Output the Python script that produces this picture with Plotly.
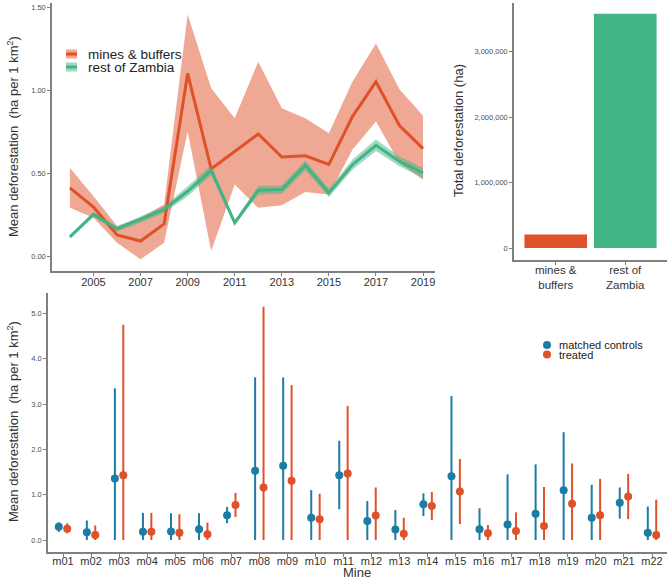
import plotly.graph_objects as go
import numpy as np

# ---------------- data ----------------
years = list(range(2004, 2020))
mines_mean = [0.41, 0.295, 0.127, 0.09, 0.193, 1.10, 0.524, 0.63, 0.735, 0.596, 0.604, 0.552, 0.84, 1.05, 0.785, 0.647]
mines_upper = [0.53, 0.36, 0.18, 0.23, 0.31, 1.455, 1.01, 0.83, 1.17, 0.89, 0.83, 0.74, 1.05, 1.28, 1.005, 0.845]
mines_lower = [0.29, 0.23, 0.08, -0.02, 0.08, 0.75, 0.03, 0.43, 0.29, 0.305, 0.385, 0.37, 0.64, 0.81, 0.56, 0.46]
zambia_mean = [0.115, 0.25, 0.163, 0.22, 0.28, 0.39, 0.516, 0.2, 0.396, 0.40, 0.546, 0.38, 0.55, 0.667, 0.57, 0.50]
zambia_upper = [0.125, 0.265, 0.178, 0.24, 0.30, 0.42, 0.546, 0.215, 0.421, 0.425, 0.576, 0.405, 0.58, 0.702, 0.60, 0.53]
zambia_lower = [0.105, 0.235, 0.148, 0.20, 0.26, 0.36, 0.486, 0.185, 0.371, 0.375, 0.516, 0.355, 0.52, 0.632, 0.54, 0.47]

groups = ["mines &<br>buffers", "rest of<br>Zambia"]
totals = [205000, 3580000]

mines = ["m%02d" % i for i in range(1, 23)]
ctrl_mean = [0.295, 0.17, 1.36, 0.18, 0.19, 0.24, 0.545, 1.53, 1.64, 0.49, 1.43, 0.42, 0.23, 0.79, 1.41, 0.24, 0.34, 0.58, 1.10, 0.49, 0.82, 0.16]
ctrl_lo = [0.18, 0, 0, 0, 0, 0, 0.37, 0, 0, 0, 0.68, 0, 0, 0.53, 0, 0, 0, 0, 0, 0, 0.47, 0]
ctrl_hi = [0.39, 0.43, 3.35, 0.6, 0.59, 0.59, 0.73, 3.59, 3.59, 1.1, 2.19, 0.86, 0.66, 1.03, 3.18, 0.7, 1.45, 1.67, 2.38, 1.22, 1.16, 0.74]
trt_mean = [0.25, 0.11, 1.43, 0.18, 0.16, 0.125, 0.77, 1.16, 1.31, 0.46, 1.47, 0.54, 0.14, 0.75, 1.07, 0.15, 0.2, 0.31, 0.8, 0.545, 0.96, 0.11]
trt_lo = [0.15, 0, 0, 0, 0, 0, 0.51, 0, 0, 0, 0, 0, 0, 0.44, 0.35, 0, 0, 0, 0, 0, 0.46, 0]
trt_hi = [0.37, 0.32, 4.75, 0.6, 0.57, 0.38, 1.04, 5.15, 3.42, 1.02, 2.96, 1.16, 0.49, 1.06, 1.79, 0.33, 0.61, 1.17, 1.69, 1.35, 1.46, 0.89]

# ---------------- style ----------------
RED = "#DF5129"
GREEN = "#42B483"
BLUE = "#1B7CA4"
FONT = "Liberation Sans, Arial, sans-serif"
AX = "#808080"
TXT = "#4D4D4D"
W, H = 669, 579


def px(x):
    return x / W


def py(y):
    return 1 - y / H


fig = go.Figure()

# ---- top-left: time series with ribbons ----
fig.add_trace(go.Scatter(x=years, y=mines_upper, mode="lines", line=dict(width=0),
                         showlegend=False, hoverinfo="skip", xaxis="x", yaxis="y"))
fig.add_trace(go.Scatter(x=years, y=mines_lower, mode="lines", line=dict(width=0), fill="tonexty",
                         fillcolor="rgba(223,81,41,0.5)", showlegend=False, hoverinfo="skip",
                         xaxis="x", yaxis="y"))
fig.add_trace(go.Scatter(x=years, y=zambia_upper, mode="lines", line=dict(width=0),
                         showlegend=False, hoverinfo="skip", xaxis="x", yaxis="y"))
fig.add_trace(go.Scatter(x=years, y=zambia_lower, mode="lines", line=dict(width=0), fill="tonexty",
                         fillcolor="rgba(66,180,131,0.5)", showlegend=False, hoverinfo="skip",
                         xaxis="x", yaxis="y"))
fig.add_trace(go.Scatter(x=years, y=mines_mean, mode="lines", line=dict(color=RED, width=3),
                         name="mines & buffers", showlegend=False, xaxis="x", yaxis="y"))
fig.add_trace(go.Scatter(x=years, y=zambia_mean, mode="lines", line=dict(color=GREEN, width=3),
                         name="rest of Zambia", showlegend=False, xaxis="x", yaxis="y"))

# ---- top-right: bars ----
fig.add_trace(go.Bar(x=[0, 1], y=totals, marker=dict(color=[RED, GREEN], line=dict(width=0)),
                     width=0.9, showlegend=False, xaxis="x2", yaxis="y2"))

# ---- bottom: point ranges ----
idx = np.arange(len(mines))
off = 0.15
c_mean = np.array(ctrl_mean)
t_mean = np.array(trt_mean)
fig.add_trace(go.Scatter(x=idx - off, y=ctrl_mean, mode="markers", name="matched controls",
                         marker=dict(color=BLUE, size=8),
                         error_y=dict(type="data", symmetric=False,
                                      array=list(np.array(ctrl_hi) - c_mean),
                                      arrayminus=list(c_mean - np.array(ctrl_lo)),
                                      color=BLUE, thickness=2, width=0),
                         showlegend=False, xaxis="x3", yaxis="y3"))
fig.add_trace(go.Scatter(x=idx + off, y=trt_mean, mode="markers", name="treated",
                         marker=dict(color=RED, size=8),
                         error_y=dict(type="data", symmetric=False,
                                      array=list(np.array(trt_hi) - t_mean),
                                      arrayminus=list(t_mean - np.array(trt_lo)),
                                      color=RED, thickness=2, width=0),
                         showlegend=False, xaxis="x3", yaxis="y3"))

axis_common = dict(showline=True, linecolor=AX, linewidth=1.5, ticks="outside", ticklen=3,
                   tickcolor=AX, tickwidth=1, showgrid=False, zeroline=False)

fig.update_layout(
    width=W, height=H, margin=dict(l=0, r=0, t=0, b=0),
    paper_bgcolor="white", plot_bgcolor="white",
    font=dict(family=FONT, color=TXT),
    xaxis=dict(domain=[px(52), px(435)], range=[2004 - 18 / 23.6, 2019 + 12 / 23.6],
               tickvals=list(range(2005, 2020, 2)), tickfont=dict(size=11, color="#333333"),
               ticklabelstandoff=-3, anchor="y", **axis_common),
    yaxis=dict(domain=[py(271), py(3)], range=[-15 / 166, 253 / 166],
               tickvals=[0, 0.5, 1.0, 1.5], tickformat=".2f", tickfont=dict(size=7.5, color=TXT),
               anchor="x", **axis_common),
    xaxis2=dict(domain=[px(514), px(667)], range=[-0.6, 1.6], tickvals=[0, 1], ticktext=groups,
                tickfont=dict(size=11.5, color="#333333"), ticklabelstandoff=-5,
                anchor="y2", **axis_common),
    yaxis2=dict(domain=[py(260), py(3)], range=[-12 / 65.4 * 1e6, 245 / 65.4 * 1e6],
                tickvals=[0, 1e6, 2e6, 3e6], tickformat=",", tickfont=dict(size=7.5, color=TXT),
                anchor="x2", **axis_common),
    xaxis3=dict(domain=[px(48), px(667)], range=[-15 / 28.05, 21 + 15 / 28.05],
                tickvals=list(idx), ticktext=mines, tickfont=dict(size=11, color="#333333"),
                ticklabelstandoff=-5, anchor="y3", **axis_common),
    yaxis3=dict(domain=[py(552), py(293)], range=[-12 / 45.3, 247 / 45.3],
                tickvals=[0, 1, 2, 3, 4, 5], tickformat=".1f", tickfont=dict(size=7.5, color=TXT),
                anchor="x3", **axis_common),
)

ann = []
# axis titles
ann.append(dict(text="Mean deforestation  (ha per 1 km<sup>2</sup>)", x=px(13), y=py(137),
                textangle=-90, font=dict(size=13, color="#333333")))
ann.append(dict(text="Total deforestation (ha)", x=px(458), y=py(131),
                textangle=-90, font=dict(size=13, color="#333333")))
ann.append(dict(text="Mean deforestation  (ha per 1 km<sup>2</sup>)", x=px(13), y=py(422),
                textangle=-90, font=dict(size=13, color="#333333")))
ann.append(dict(text="Mine", x=px(357), y=py(572.5), font=dict(size=13, color="#333333")))
# legend top-left
ann.append(dict(text="mines & buffers", x=px(86), y=py(54), xanchor="left",
                font=dict(size=13.5, color="#222222")))
ann.append(dict(text="rest of Zambia", x=px(86), y=py(67), xanchor="left",
                font=dict(size=13.5, color="#222222")))
# legend bottom
ann.append(dict(text="matched controls", x=px(557), y=py(345), xanchor="left",
                font=dict(size=11, color="#222222")))
ann.append(dict(text="treated", x=px(557), y=py(354.5), xanchor="left",
                font=dict(size=11, color="#222222")))
for a in ann:
    a.update(xref="paper", yref="paper", showarrow=False)
    a.setdefault("xanchor", "center")
    a.setdefault("yanchor", "middle")
fig.update_layout(annotations=ann)

shapes = []
# top-left legend keys
shapes.append(dict(type="rect", xref="paper", yref="paper", x0=px(66), x1=px(77), y0=py(58.5), y1=py(49.5),
                   fillcolor="rgba(223,81,41,0.5)", line=dict(width=0)))
shapes.append(dict(type="line", xref="paper", yref="paper", x0=px(66), x1=px(77), y0=py(54), y1=py(54),
                   line=dict(color=RED, width=3)))
shapes.append(dict(type="rect", xref="paper", yref="paper", x0=px(66), x1=px(77), y0=py(71.5), y1=py(62.5),
                   fillcolor="rgba(66,180,131,0.5)", line=dict(width=0)))
shapes.append(dict(type="line", xref="paper", yref="paper", x0=px(66), x1=px(77), y0=py(67), y1=py(67),
                   line=dict(color=GREEN, width=3)))
# bottom legend keys
for yy, col in [(345, BLUE), (354.5, RED)]:
    shapes.append(dict(type="circle", xref="paper", yref="paper", xsizemode="pixel", ysizemode="pixel",
                       xanchor=px(547), yanchor=py(yy), x0=-4, x1=4, y0=-4, y1=4,
                       fillcolor=col, line=dict(width=0)))
fig.update_layout(shapes=shapes)

fig.write_html("out.html", config={"displayModeBar": False},
               post_script="document.body.style.margin='0';document.body.style.padding='0';")
